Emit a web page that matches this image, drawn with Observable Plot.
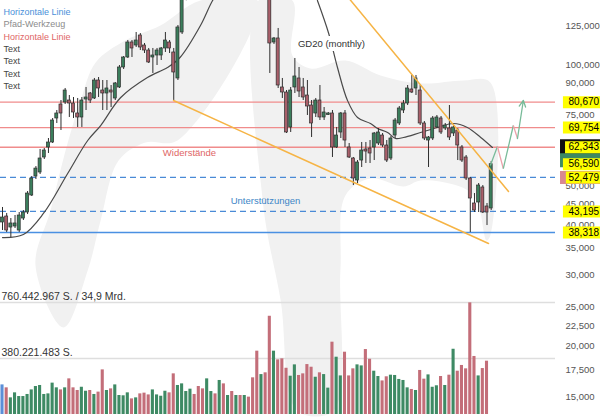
<!DOCTYPE html>
<html><head><meta charset="utf-8">
<script src="https://cdn.jsdelivr.net/npm/d3@7"></script>
<script src="https://cdn.jsdelivr.net/npm/@observablehq/plot@0.6"></script>
<style>
body{margin:0;background:#fff;}
#wrap{position:relative;width:600px;height:420px;overflow:hidden;background:#fff;font-family:"Liberation Sans",Arial,sans-serif;}
#wrap svg{position:absolute;left:0;top:0;}
</style></head><body><div id="wrap"></div>
<script>
// ---- candle data (daily candles, index 0..117) ----
const opens = [40560,41970,39410,39640,38740,41490,42940,47320,52750,53970,58800,62260,64060,73480,79590,80510,81430,80050,75610,73900,
81900,84760,82370,91290,86220,84760,86220,82370,87720,98340,104120,113440,111500,118060,111500,108360,104120,105310,105310,109620,
113440,107140,92350,120110,146700,155000,165000,160000,156000,152000,160000,172000,166000,175000,170000,178000,171000,176000,168000,174000,
166000,158000,151000,157000,150000,113440,116060,87720,85240,69800,87720,92350,87720,83790,79140,75610,81430,73900,74960,75610,
62260,67830,75610,62260,58460,51550,57790,61550,61900,62260,63690,66670,62970,58460,66670,71410,76910,80050,86720,87220,
86220,71410,64790,65540,69800,73480,69400,69400,67440,68600,62260,58800,52150,45210,45470,49540,44440,43940];
const highs = [44190,42700,41490,42210,42940,43430,48410,52750,55840,61550,61900,65540,73470,76910,81430,87220,83790,82840,82370,82840,
87720,85240,92350,92870,91290,91290,88720,90260,99460,104710,114730,114730,120110,119390,112790,109620,109620,109620,110240,120110,
114730,109620,125000,152700,158000,168000,167000,162000,158000,162000,175000,174000,178000,177000,181000,180000,179000,178000,176000,175000,
168000,160000,159000,158000,152000,116720,122890,92350,86220,87720,103530,98340,92350,91290,81430,82370,88720,78240,76040,76910,
69800,76040,76910,63690,58800,57790,64060,64060,64790,67830,69400,67440,64790,66290,73480,78690,81430,88720,93940,93940,
88720,72220,66290,74320,74740,74320,71410,79140,70590,69400,62970,59470,52450,47860,50680,50100,45210,57470];
const lows = [38740,38300,37220,39190,38300,41020,42450,47050,51850,53350,58130,60160,63690,71410,68600,79590,73900,73480,69800,69800,
76910,80050,81900,82840,76910,76910,78220,81430,87220,97220,103530,104120,110240,108360,106530,100610,95020,99460,102340,107140,
106530,81430,91290,118740,144000,152000,157000,153000,149000,150000,158000,163000,164000,167000,168000,169000,169000,166000,166000,164000,
156000,149000,149000,148000,95020,112150,87220,82370,67440,67830,84760,82840,81430,74740,65920,73900,72640,72640,74740,58800,
61900,65540,62260,58460,50100,50680,55530,56820,56820,57790,62970,62260,57140,57790,65540,70590,75610,79140,84760,83790,
70590,64790,55530,64790,69400,67050,68600,64790,66290,57790,57140,51550,38300,42940,42940,42690,39860,43430];
const closes = [41730,38740,40330,40330,42210,42940,47860,52150,55190,58460,61190,64060,72640,75610,75610,86220,80050,76040,73900,81430,
82840,81430,91290,87220,84760,87220,85240,89750,98340,104120,113440,109620,114730,110240,108360,101190,105310,108360,109620,114730,
109620,95570,123600,146700,155000,165000,160000,156000,152000,160000,172000,166000,175000,170000,178000,171000,176000,168000,174000,166000,
158000,151000,157000,150000,112790,116060,88720,85240,67830,86220,93410,85730,82840,78690,71410,81430,73900,76040,75610,62260,
66670,75610,64790,58800,52150,57140,61190,60840,60160,67440,67830,62970,57790,65540,72640,77800,80050,87220,85240,92350,
71410,65540,65920,73480,73900,67830,70590,65920,69800,62970,57790,52150,46520,43430,50100,42940,42940,56590];
// volume in millions of shares (one bar per candle, the last candle shows none)
const volumes = [201,181,113,147,122,122,136,167,190,197,136,140,213,181,167,181,242,181,163,185,
158,163,136,152,303,163,174,201,129,127,147,106,113,140,145,133,167,133,124,158,
147,276,197,208,156,172,136,190,174,242,156,140,231,208,129,156,129,129,129,118,
249,430,271,283,667,430,371,378,314,260,337,265,276,339,321,253,283,271,179,491,
389,262,423,262,310,337,330,441,375,294,258,228,256,267,265,238,231,181,170,163,
299,240,269,185,195,258,197,267,443,294,333,310,758,394,262,312,362];
const volLevels = [380.221483, 760.442967];
const volLabels = ["380.221.483 S.", "760.442.967 S. / 34,9 Mrd."];

// ---- moving average GD20 (z = segment) ----
const smaI = [0,5.0,9.8,15.6,20.4,23.5,28.3,34.7,39.5,42.5,47.4,50.3,54,60,66,72,75.4,78.1,80.2,82.6,85.0,88.1,89.8,92.2,94.1,96.0,100.1,104.2,108.0,111.3,114.5,117.3];
const smaP = [37220,37870,42700,53660,64790,70590,82840,92870,98340,104120,125000,144195,165000,180000,175000,160000,144195,119430,98340,81430,73900,71410,69400,67830,65540,65920,67830,69800,71410,69800,65920,62260];

// ---- horizontal levels ----
const redLevels = [80670, 69754, 62343];
const dashLevels = [52479, 43195];
const solidBlue = [38318];
const labelLevels = [80670, 69754, 62343, 56590, 52479, 43195, 38318];
const axisTicks = [15000,17500,20000,22500,25000,30000,35000,40000,45000,50000,75000,90000,100000,125000];

// ---- trend lines (orange) ----
const trendId = [0,0,1,1];
const trendI = [40.94, 116.36, 81.4, 121.15];
const trendP = [81430, 35970, 152675, 48415];

// ---- projected zigzag arrow ----
const arrowI = [116.8, 118.5, 119.9, 122.3, 123.3, 124.7];
const arrowP = [56170, 62600, 55200, 70590, 65540, 81430];

// ---- freehand gray path tool shapes ----
const shapeId = [0,0,0,0,0,0,0,0,0,0,0,0,0,0,0, 1,1,1,1,1,1,1,1,1,1,1,1,1,1,1,1,1,1,1,1,1,1,1];
const shapeI = [61.05,47.4,37.8,29.4,22.3,18.7,15.1,11.5,7.9,14.6,20.4,23.5,27.8,34.2,41.9,
 61.3,69.4,69.4,73.7,82.1,90.5,100.1,110.4,116.8,116.8,115.9,114.0,112.1,108.0,100.1,96.0,88.1,82.1,80.9,79.2,70.6,66.6,62.3];
const shapeP = [144195,144195,125000,114730,101190,81430,61190,43430,31720,22255,30825,41020,57790,64060,64790,
 144195,144195,105310,97780,102340,93935,89750,91290,90260,37650,36590,44690,48140,50390,51550,49820,52150,47320,30825,13834,13834,25970,45985];

// ---- annotation texts ----
const notes = [
  {t: "Widerstände", i: 44.77, p: 60500, c: "#e06666"},
  {t: "Unterstützungen", i: 62.97, p: 45985, c: "#3d85c6"},
  {t: "GD20 (monthly)", i: 78.77, p: 112800, c: "#333333"}
];
const legendItems = ["Horizontale Linie","Pfad-Werkzeug","Horizontale Linie","Text","Text","Text","Text"];
const legendColors = ["#4a90d9","#8c8c8c","#e06666","#444444","#444444","#444444","#444444"];

// ---- build ----
const candles = opens.map((o,i) => ({i, o, h: highs[i], l: lows[i], c: closes[i], up: closes[i] >= o}));
const sma = smaI.map((x,k) => ({i: x, p: smaP[k], z: x < 74 ? 0 : 1}));
const trends = trendI.map((x,k) => ({i: x, p: trendP[k], z: trendId[k]}));
const shape = shapeI.map((x,k) => ({i: x, p: shapeP[k], z: shapeId[k]}));
const segs = arrowI.slice(0,-1).map((x,k) => ({x1: x, y1: arrowP[k], x2: arrowI[k+1], y2: arrowP[k+1], up: arrowP[k+1] > arrowP[k]}));
const fmt = d3.format(",");
const UP = "#3b7e5c", DOWN = "#a95f6a", WICK = "#2e2e2e";
const LBL0 = 134.3, LBLEND = 146;
const font = {fontFamily: "'Liberation Sans', Arial, sans-serif", fontSize: "9.5px", background: "transparent", overflow: "visible"};
const xs = {domain: [-0.48, 132.4], axis: null};

const price = Plot.plot({
  width: 600, height: 420, marginTop: 0, marginBottom: 0, marginLeft: 0, marginRight: 45,
  x: xs,
  y: {type: "log", domain: [13084, 144195]},
  color: {type: "identity"},
  style: font,
  marks: [
    Plot.line(shape, {x: "i", y: "p", z: "z", fill: "#f1f1f1", stroke: "none", curve: "catmull-rom-closed", clip: true}),
    Plot.ruleY(redLevels, {stroke: "#f08c8c", strokeWidth: 1.4}),
    Plot.ruleY(dashLevels, {stroke: "#4a8ad6", strokeWidth: 1.2, strokeDasharray: "6,4"}),
    Plot.ruleY(solidBlue, {stroke: "#4a90e2", strokeWidth: 1.4}),
    Plot.line(sma, {x: "i", y: "p", z: "z", stroke: "#4a4a4a", strokeWidth: 1.2, curve: "catmull-rom", clip: true}),
    Plot.ruleX(candles, {x: "i", y1: "l", y2: "h", stroke: WICK, strokeWidth: 1, clip: true}),
    Plot.rect(candles, {x1: d => d.i - 0.36, x2: d => d.i + 0.36, y1: "o", y2: "c", fill: d => d.up ? UP : DOWN, stroke: WICK, strokeWidth: 0.7, clip: true}),
    Plot.line(trends, {x: "i", y: "p", z: "z", stroke: "#f6b445", strokeWidth: 1.5, clip: true}),
    Plot.ruleY([notes[2].p], {x1: 70.15, x2: 88.1, stroke: "#ffffff", strokeWidth: 15}),
    Plot.text(notes, {x: "i", y: "p", text: "t", fill: "c", fontSize: 9.5}),
    Plot.link(segs.slice(0,-1), {x1: "x1", y1: "y1", x2: "x2", y2: "y2", stroke: d => d.up ? "#78bb99" : "#eba2aa", strokeWidth: 1.3}),
    Plot.arrow(segs.slice(-1), {x1: "x1", y1: "y1", x2: "x2", y2: "y2", stroke: "#78bb99", strokeWidth: 1.3, headLength: 8, headAngle: 55}),
    Plot.axisY(axisTicks, {anchor: "right", tickSize: 0, tickPadding: 10, tickFormat: fmt, fill: "#555", fontSize: 9.5, label: null}),
    // label boxes
    Plot.ruleY([62343], {x1: 133.6, x2: LBLEND, stroke: "#111", strokeWidth: 15, dy: -0.5}),
    Plot.ruleY([56590], {x1: 133.6, x2: LBLEND, stroke: "#3d8a63", strokeWidth: 14, dy: -4}),
    Plot.ruleY([52479], {x1: 133.6, x2: LBLEND, stroke: "#d98890", strokeWidth: 13}),
    Plot.ruleY(labelLevels, {x1: d => d === 52479 ? 135.0 : (d === 62343 ? 134.8 : LBL0), x2: LBLEND, stroke: "#ffff00", strokeWidth: 12}),
    Plot.text(labelLevels, {y: d => d, text: d => fmt(d), frameAnchor: "right", dx: 13, textAnchor: "start", fill: "#000", fontSize: 10}),
    ...legendItems.map((t,k) => Plot.text([t], {text: d => d, frameAnchor: "top-left", dx: 3, dy: 8 + 12.4 * k, textAnchor: "start", fill: legendColors[k], fontSize: 9}))
  ]
});

const vol = Plot.plot({
  width: 600, height: 420, marginTop: 302, marginBottom: 6, marginLeft: 0, marginRight: 45,
  x: xs,
  y: {domain: [0, 760.442967], axis: null},
  color: {type: "identity"},
  style: font,
  marks: [
    Plot.ruleY(volLevels, {stroke: "#dedede", strokeWidth: 1.6}),
    Plot.rect(volumes, {x1: (d,i) => i - 0.37, x2: (d,i) => i + 0.37, y1: 0, y2: d => d,
      fill: (d,i) => i === 0 ? "#5b8fd8" : (closes[i] >= opens[i] ? "#3e8a64" : "#c36e79")}),
    Plot.text(volLevels, {y: d => d, text: (d,i) => volLabels[i], frameAnchor: "left", dx: 1, dy: -6, textAnchor: "start", fill: "#333", fontSize: 10.5})
  ]
});

const wrap = document.getElementById("wrap");
wrap.appendChild(price);
wrap.appendChild(vol);
</script>
</body></html>
